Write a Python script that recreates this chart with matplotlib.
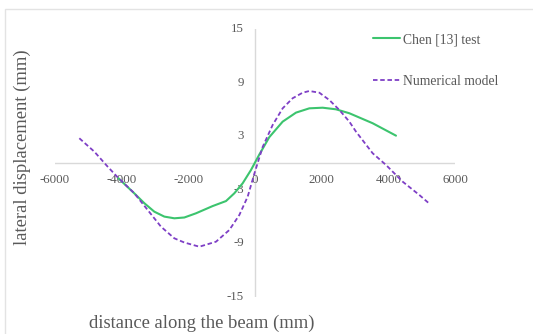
import matplotlib
matplotlib.use("Agg")
import matplotlib.pyplot as plt
from matplotlib.patches import Rectangle
import matplotlib.transforms as mtransforms

# ---- data ----
test_x = [-4100, -3620, -3320, -3020, -2720, -2420, -2120, -1770, -1270, -870, -620, -370, -120, 130, 430, 830, 1230, 1630, 2030, 2430, 2830, 3530, 4230]
test_y = [-1.7, -3.4, -4.5, -5.45, -6.0, -6.19, -6.1, -5.63, -4.82, -4.26, -3.39, -2.27, -0.78, 0.95, 2.9, 4.63, 5.64, 6.12, 6.19, 6.01, 5.57, 4.45, 3.06]

model_x = [-5270, -4820, -4420, -4120, -3620, -3220, -2820, -2420, -2120, -1670, -1170, -770, -470, -220, -20, 230, 530, 830, 1130, 1430, 1630, 1930, 2230, 2530, 2830, 3030, 3530, 3930, 4430, 4930, 5230]
model_y = [2.77, 1.27, -0.41, -1.6, -3.39, -5.26, -7.13, -8.43, -8.9, -9.37, -8.81, -7.5, -5.82, -3.77, -1.2, 1.8, 4.26, 6.12, 7.25, 7.87, 8.06, 7.87, 7.05, 5.94, 4.63, 3.51, 1.09, -0.22, -2.09, -3.58, -4.55]

x_ticks = [-6000, -4000, -2000, 0, 2000, 4000, 6000]
y_ticks = [15, 9, 3, -3, -9, -15]

series_names = ["Chen [13] test", "Numerical model"]
x_title = "distance along the beam (mm)"
y_title = "lateral displacement (mm)"

# ---- style ----
plt.rcParams['font.family'] = ['Liberation Serif', 'DejaVu Serif']
txt = '#595959'
axis_col = '#D9D9D9'
green = '#3CC46E'
purple = '#7E3FC6'

W, H = 533, 334
fig = plt.figure(figsize=(W / 100, H / 100), dpi=100)
fig.patch.set_facecolor('white')

# chart border (Excel chart area)
fig.add_artist(Rectangle((5 / W, -0.05), 1.2, (H - 9) / H + 0.05, transform=fig.transFigure,
                         fill=False, edgecolor='#E3E3E3', linewidth=1.0))

ax = fig.add_axes([55 / W, (H - 297) / H, 400 / W, 268 / H])
ax.set_xlim(-6000, 6000)
ax.set_ylim(-15, 15)
for s in ax.spines.values():
    s.set_visible(False)
ax.set_xticks([])
ax.set_yticks([])
ax.patch.set_alpha(0)

ax.axhline(0, color=axis_col, linewidth=1.0, zorder=1)
ax.axvline(0, color=axis_col, linewidth=1.0, zorder=1)

# tick labels placed next to the axes (Excel style)
offx = mtransforms.offset_copy(ax.transData, fig=fig, x=0, y=-17, units='dots')
for v in x_ticks:
    ax.text(v, 0, str(v), transform=offx, ha='center', va='center',
            fontsize=9.3, color=txt, zorder=2)
offy = mtransforms.offset_copy(ax.transData, fig=fig, x=-11, y=0, units='dots')
for v in y_ticks:
    ax.text(0, v, str(v), transform=offy, ha='right', va='center',
            fontsize=9.3, color=txt, zorder=2)

l1, = ax.plot(test_x, test_y, color=green, linewidth=1.5, zorder=3,
              solid_capstyle='round', solid_joinstyle='round')
l2, = ax.plot(model_x, model_y, color=purple, linewidth=1.3, linestyle=(0, (2.5, 1.5)), zorder=4)

leg = fig.legend([l1, l2], series_names, loc='upper left',
                 bbox_to_anchor=(361 / W, 1 - 21 / H), frameon=False,
                 fontsize=9.8, labelcolor=txt, handlelength=2.0, handletextpad=0.2,
                 labelspacing=2.1)

fig.text(202 / W, 1 - 323 / H, x_title, ha='center', va='center', fontsize=13.4, color=txt)
fig.text(22 / W, 1 - 147 / H, y_title, ha='center', va='center', rotation=90, fontsize=13.4, color=txt)

fig.savefig('out.png', dpi=100)
